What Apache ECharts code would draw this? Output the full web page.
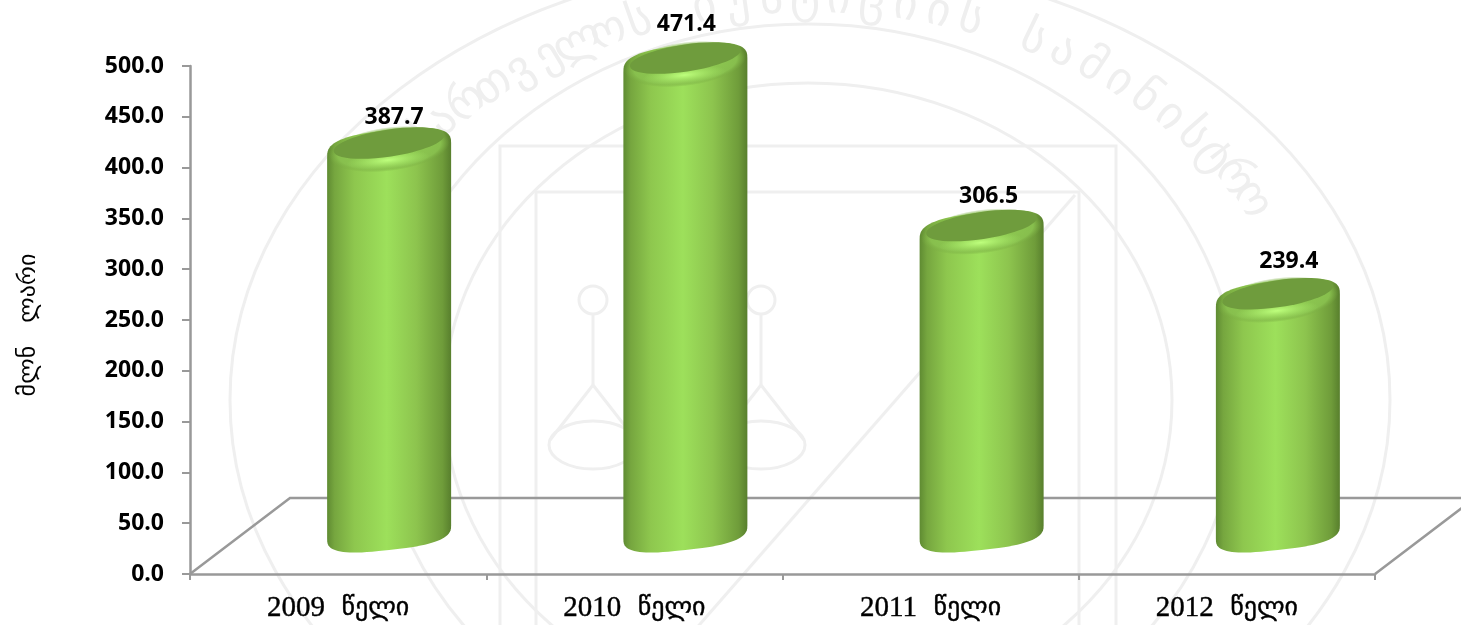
<!DOCTYPE html>
<html>
<head>
<meta charset="utf-8">
<style>html,body{margin:0;padding:0;background:#fff}#chart{width:1461px;height:625px}</style>
<script src="https://cdn.jsdelivr.net/npm/echarts@6/dist/echarts.min.js"></script>
</head>
<body>
<div id="chart"></div>
<script>
var categories = ['2009  წელი', '2010  წელი', '2011  წელი', '2012  წელი'];
var values = [387.7, 471.4, 306.5, 239.4];
var yTicks = [0, 500];
var yName = 'მლნ   ლარი';

// the picture is a 3d chart: bars stand half way back on the floor
var depthX = 100, depthY = 76;
var barRx = 62;
var labelShift = [[5, -25], [1, -33], [7, -28], [11, -31]];
var axisGrey = '#999999';
var seal = '#efefef';
var valueFont = 'bold 23px "Open Sans", sans-serif';

function bodyFill() {
  return new echarts.graphic.LinearGradient(0, 0, 1, 0, [
    {offset: 0, color: '#5f8b32'},
    {offset: 0.06, color: '#76a63f'},
    {offset: 0.22, color: '#8ec74e'},
    {offset: 0.48, color: '#9de05b'},
    {offset: 0.72, color: '#8dc44e'},
    {offset: 0.93, color: '#6f9c3a'},
    {offset: 1, color: '#587f2d'}
  ]);
}

// half of a tilted super-ellipse, from the left side to the right side
function capPoints(cx, cy, rx, ry, tilt, upper) {
  var pts = [];
  for (var i = 0; i <= 40; i++) {
    var a = Math.PI * i / 40;
    var c = Math.cos(a), s = Math.sin(a);
    var px = -rx * Math.sign(c) * Math.pow(Math.abs(c), 0.7);
    var py = ry * Math.pow(s, 0.7) * (upper ? -1 : 1);
    pts.push([cx + px, cy + py - px * tilt]);
  }
  return pts;
}

// soft elliptical patch, a scaled circle so the radial gradient follows the shape
function glow(x, y, rx, ry, rotation, stops) {
  return {
    type: 'circle', x: x, y: y, rotation: rotation, scaleX: rx / 10, scaleY: ry / 10,
    shape: {cx: 0, cy: 0, r: 10},
    style: {fill: new echarts.graphic.RadialGradient(0.5, 0.5, 0.5, stops)}
  };
}

function renderBar(params, api) {
  var top = api.coord([api.value(0), api.value(1)]);
  var base = api.coord([api.value(0), 0]);
  var cx = top[0] + depthX / 2 + 1;
  var topY = top[1] - depthY / 2;
  var baseY = base[1] - depthY / 2;
  var tilt = 0.11;
  var shift = labelShift[params.dataIndex];
  var outline = capPoints(cx, topY + 8, barRx, 20, tilt, true)
    .concat(capPoints(cx, baseY - 4, barRx, 18, tilt, false).reverse());
  return {
    type: 'group',
    children: [
      {type: 'polygon', shape: {points: outline}, style: {fill: bodyFill()}},
      // rim lit from the front, under the top face
      glow(cx, topY + 7, barRx - 1, 22, 0.13, [
        {offset: 0, color: 'rgba(146,208,84,1)'},
        {offset: 0.85, color: 'rgba(136,192,78,0.95)'},
        {offset: 1, color: 'rgba(120,170,65,0)'}
      ]),
      glow(cx - 1, topY + 18, 42, 9, 0.1, [
        {offset: 0, color: 'rgba(190,255,125,1)'},
        {offset: 1, color: 'rgba(170,240,105,0)'}
      ]),
      {type: 'ellipse', x: cx, y: topY + 1, rotation: 0.15,
        shape: {cx: 0, cy: 0, rx: barRx - 6, ry: 13.5},
        style: {fill: '#6f9c3d'}},
      {type: 'text', x: cx + shift[0], y: topY + shift[1],
        style: {text: api.value(1).toFixed(1), fill: '#000', align: 'center', verticalAlign: 'middle', font: valueFont}}
    ]
  };
}

// floor of the 3d plot, taken from the grid rectangle
function renderFloor(params) {
  var g = params.coordSys;
  var bottom = g.y + g.height, right = g.x + g.width;
  return {
    type: 'polyline',
    shape: {points: [
      [g.x, bottom], [g.x + depthX, bottom - depthY],
      [right + depthX, bottom - depthY], [right, bottom]
    ]},
    style: {fill: null, stroke: axisGrey, lineWidth: 2.5}
  };
}

// faint seal behind the chart
function sealLetters(text, start, step) {
  return Array.from(text).map(function (ch, i) {
    var a = start + step * i;
    return {
      type: 'text', silent: true, z: -10,
      x: 810 + 510 * Math.sin(a), y: 400 - 400 * Math.cos(a),
      rotation: -a,
      style: {text: ch, fill: seal, align: 'center', verticalAlign: 'middle', font: '46px "DejaVu Sans"'}
    };
  });
}

var sealShapes = [
  {type: 'ellipse', shape: {cx: 810, cy: 400, rx: 580, ry: 440}},
  {type: 'ellipse', shape: {cx: 808, cy: 400, rx: 430, ry: 376}},
  {type: 'ellipse', shape: {cx: 808, cy: 400, rx: 364, ry: 317}},
  {type: 'rect', shape: {x: 500, y: 146, width: 616, height: 520}},
  {type: 'rect', shape: {x: 536, y: 192, width: 543, height: 470}},
  {type: 'polyline', shape: {points: [[1075, 195], [680, 647]]}},
  {type: 'circle', shape: {cx: 593, cy: 300, r: 14}},
  {type: 'circle', shape: {cx: 761, cy: 300, r: 14}},
  {type: 'polyline', shape: {points: [[593, 314], [593, 385]]}},
  {type: 'polyline', shape: {points: [[761, 314], [761, 385]]}},
  {type: 'polyline', shape: {points: [[550, 440], [593, 385], [636, 440]]}},
  {type: 'polyline', shape: {points: [[718, 440], [761, 385], [804, 440]]}},
  {type: 'ellipse', shape: {cx: 593, cy: 445, rx: 44, ry: 24}},
  {type: 'ellipse', shape: {cx: 761, cy: 445, rx: 44, ry: 24}}
].map(function (s) {
  s.silent = true;
  s.z = -10;
  s.style = {fill: null, stroke: seal, lineWidth: 3};
  return s;
}).concat(sealLetters('საქართველოს იუსტიციის სამინისტრო', -1.0, 0.066));

var chart = echarts.init(document.getElementById('chart'), null, {renderer: 'canvas'});
chart.setOption({
  animation: false,
  backgroundColor: '#fff',
  graphic: {elements: sealShapes},
  grid: {left: 190, right: 86, top: 66, bottom: 51},
  xAxis: {
    type: 'category',
    data: categories,
    boundaryGap: true,
    axisLine: {lineStyle: {color: axisGrey, width: 2.5}},
    axisTick: {show: true, length: 6, lineStyle: {color: axisGrey, width: 2}},
    axisLabel: {
      margin: 20,
      formatter: function (v) {
        var p = v.split('  ');
        return '{d|' + p[0] + '}{g|  ' + p[1] + '}';
      },
      rich: {
        d: {color: '#000', fontFamily: '"Liberation Serif", serif', fontSize: 29, textBorderColor: '#000', textBorderWidth: 0.4},
        g: {color: '#000', fontFamily: '"DejaVu Sans", sans-serif', fontSize: 26, textBorderColor: '#000', textBorderWidth: 0.4}
      }
    }
  },
  yAxis: {
    type: 'value',
    min: yTicks[0],
    max: yTicks[1],
    interval: 50,
    name: yName,
    nameLocation: 'middle',
    nameGap: 149,
    nameTextStyle: {color: '#000', fontSize: 24, fontFamily: '"DejaVu Sans", sans-serif', padding: [0, 10, 0, 0]},
    axisLine: {show: true, lineStyle: {color: axisGrey, width: 2.5}},
    axisTick: {show: true, length: 8, lineStyle: {color: axisGrey, width: 2}},
    axisLabel: {color: '#000', fontWeight: 'bold', fontFamily: '"Open Sans", sans-serif', fontSize: 23, margin: 26, padding: [6, 0, 0, 0],
      formatter: function (v) { return v.toFixed(1); }},
    splitLine: {show: false}
  },
  series: [
    {type: 'custom', name: 'floor', renderItem: renderFloor, data: [[0, 0]], clip: false, z: 1, silent: true},
    {type: 'custom', name: 'bars', renderItem: renderBar, clip: false, z: 2,
      encode: {x: 0, y: 1},
      data: values.map(function (v, i) { return [i, v]; })}
  ]
});
</script>
</body>
</html>
